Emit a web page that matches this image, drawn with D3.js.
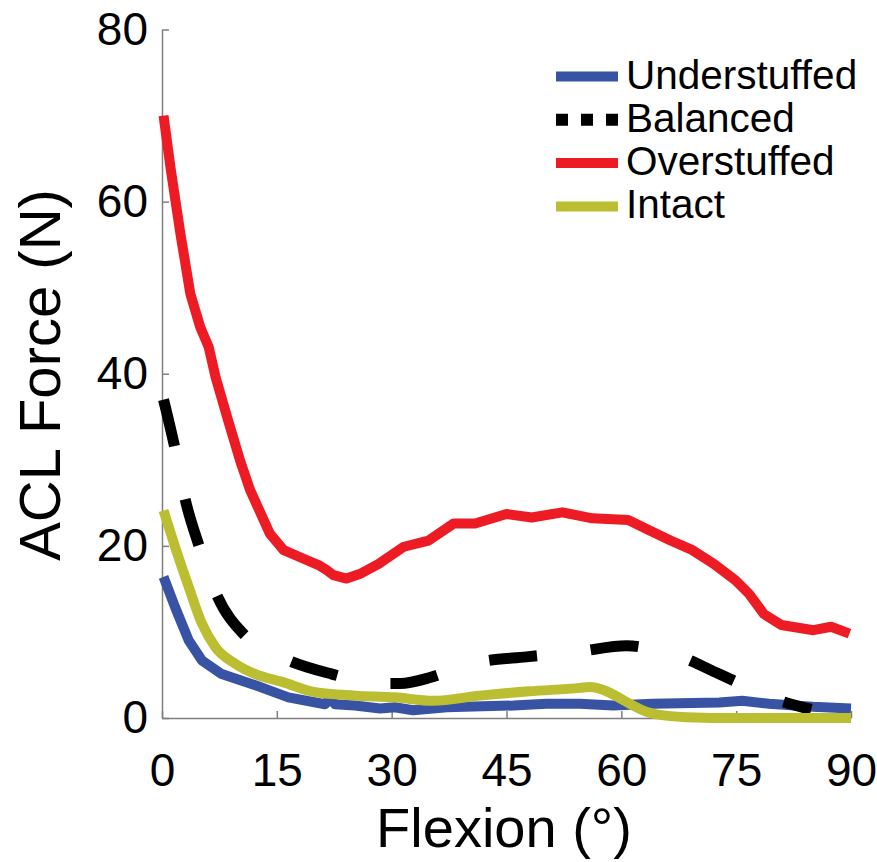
<!DOCTYPE html>
<html>
<head>
<meta charset="utf-8">
<script src="https://cdn.jsdelivr.net/npm/d3@7"></script>
<style>
  html, body { margin: 0; padding: 0; background: #ffffff; }
  svg { display: block; }
  text { font-family: "Liberation Sans", Arial, Helvetica, sans-serif; fill: #000; }
</style>
</head>
<body>
<svg id="chart" width="877" height="862"></svg>
<script>
// ---------- data ----------
const seriesNames = ["Understuffed", "Balanced", "Overstuffed", "Intact"];
const xTicks = [0, 15, 30, 45, 60, 75, 90];
const yTicks = [0, 20, 40, 60, 80];

const understuffedX = [0.2, 1.7, 3.5, 5.2, 7.8, 12.2, 16.5, 21.3, 22.0, 22.6, 25.2, 28.5, 30.4, 32.8, 37.2, 45.9, 50.2, 54.6, 58.9, 64.1, 72.8, 75.8, 79.3, 85.0, 90.0];
const understuffedY = [16.4, 12.9, 9.0, 6.7, 5.1, 3.8, 2.4, 1.6, 2.3, 1.6, 1.45, 1.1, 1.25, 0.9, 1.25, 1.45, 1.65, 1.65, 1.45, 1.65, 1.8, 2.0, 1.65, 1.3, 1.1];

const balancedX = [0.2, 1.7, 3.0, 4.8, 7.2, 10.6, 13.5, 16.5, 22.2, 26.0, 29.1, 31.1, 35.0, 38.0, 41.5, 47.6, 51.0, 54.3, 60.7, 64.0, 67.2, 72.8, 76.0, 78.9, 84.8];
const balancedY = [37.0, 31.3, 25.5, 20.1, 14.2, 9.8, 8.0, 6.7, 5.1, 4.3, 4.0, 4.0, 4.7, 5.6, 6.5, 7.1, 7.4, 7.7, 8.4, 8.0, 7.3, 5.1, 3.8, 2.6, 1.0];

const overstuffedX = [0.2, 1.1, 2.4, 3.7, 5.0, 6.1, 7.0, 8.5, 10.2, 11.5, 14.1, 15.9, 18.5, 20.6, 21.5, 22.4, 24.1, 26.0, 28.3, 31.6, 34.8, 38.1, 40.9, 45.0, 48.3, 52.3, 56.2, 60.9, 63.7, 66.5, 69.3, 72.1, 74.9, 76.7, 78.6, 80.9, 85.1, 87.4, 89.8];
const overstuffedY = [70.0, 64.0, 56.3, 49.3, 45.4, 43.1, 39.6, 35.0, 29.9, 26.5, 21.4, 19.5, 18.5, 17.7, 17.2, 16.6, 16.2, 16.8, 17.9, 19.9, 20.6, 22.6, 22.6, 23.7, 23.3, 23.9, 23.2, 23.0, 21.8, 20.6, 19.5, 17.9, 16.0, 14.4, 12.1, 10.8, 10.2, 10.6, 9.8];

const intactX = [0.2, 1.7, 3.5, 5.2, 7.0, 9.6, 12.2, 15.7, 20.0, 25.2, 30.4, 35.4, 41.5, 48.0, 54.6, 55.8, 64.1, 68.5, 75.0, 90.0];
const intactY = [24.1, 19.9, 15.2, 11.0, 8.2, 6.3, 5.1, 4.2, 3.0, 2.6, 2.4, 2.0, 2.6, 3.1, 3.5, 3.6, 0.5, 0.1, 0.0, 0.0];

// ---------- layout ----------
const svg = d3.select("#chart");
svg.append("rect").attr("width", 877).attr("height", 862).attr("fill", "#ffffff");

const x = d3.scaleLinear().domain([0, 90]).range([162, 851]);
const y = d3.scaleLinear().domain([0, 80]).range([718, 29.5]);

const axisColor = "#7f7f7f";

// Axes (ticks pointing inward)
const gx = svg.append("g").attr("transform", `translate(0,${y(0)})`)
  .call(d3.axisBottom(x).tickValues(xTicks).tickSizeInner(-7).tickSizeOuter(0).tickPadding(35));
const gy = svg.append("g").attr("transform", `translate(${x(0)},0)`)
  .call(d3.axisLeft(y).tickValues(yTicks).tickSizeInner(-7).tickSizeOuter(0).tickPadding(14));

[gx, gy].forEach(g => {
  g.select(".domain").attr("stroke", axisColor).attr("stroke-width", 1.5);
  g.selectAll(".tick line").attr("stroke", axisColor).attr("stroke-width", 1.5);
  g.selectAll(".tick text").attr("fill", "#000")
    .style("font-family", '"Liberation Sans", Arial, sans-serif')
    .style("font-size", "46px");
});

// ---------- series ----------
const colors = {
  Understuffed: "#3953a4",
  Balanced: "#000000",
  Overstuffed: "#ed1c24",
  Intact: "#bcbe32"
};

function pts(xs, ys) { return xs.map((v, i) => [v, ys[i]]); }

const series = [
  { name: "Understuffed", data: pts(understuffedX, understuffedY), dash: null, curve: d3.curveLinear },
  { name: "Balanced", data: pts(balancedX, balancedY), dash: "48,54", curve: d3.curveMonotoneX },
  { name: "Overstuffed", data: pts(overstuffedX, overstuffedY), dash: null, curve: d3.curveLinear },
  { name: "Intact", data: pts(intactX, intactY), dash: null, curve: d3.curveMonotoneX }
];

series.forEach(s => {
  const line = d3.line().x(d => x(d[0])).y(d => y(d[1])).curve(s.curve);
  svg.append("path")
    .attr("d", line(s.data))
    .attr("fill", "none")
    .attr("stroke", colors[s.name])
    .attr("stroke-width", s.name === "Balanced" ? 11 : 10)
    .attr("stroke-linejoin", "round")
    .attr("stroke-linecap", "butt")
    .attr("stroke-dasharray", s.dash);
});

// ---------- legend ----------
const legend = svg.append("g");
seriesNames.forEach((name, i) => {
  const cy = 76.5 + i * 43.3;
  legend.append("line")
    .attr("x1", 556).attr("x2", 618)
    .attr("y1", cy).attr("y2", cy)
    .attr("stroke", colors[name])
    .attr("stroke-width", name === "Balanced" ? 12 : 10)
    .attr("stroke-dasharray", name === "Balanced" ? "12,13" : null);
  legend.append("text")
    .attr("x", 626).attr("y", cy + 12)
    .style("font-size", "40.5px")
    .text(name);
});

// ---------- axis titles ----------
svg.append("text")
  .attr("x", 504).attr("y", 847)
  .attr("text-anchor", "middle")
  .style("font-size", "56px")
  .text("Flexion (°)");

svg.append("text")
  .attr("transform", "translate(60,375) rotate(-90)")
  .attr("text-anchor", "middle")
  .style("font-size", "58px")
  .text("ACL Force (N)");
</script>
</body>
</html>
